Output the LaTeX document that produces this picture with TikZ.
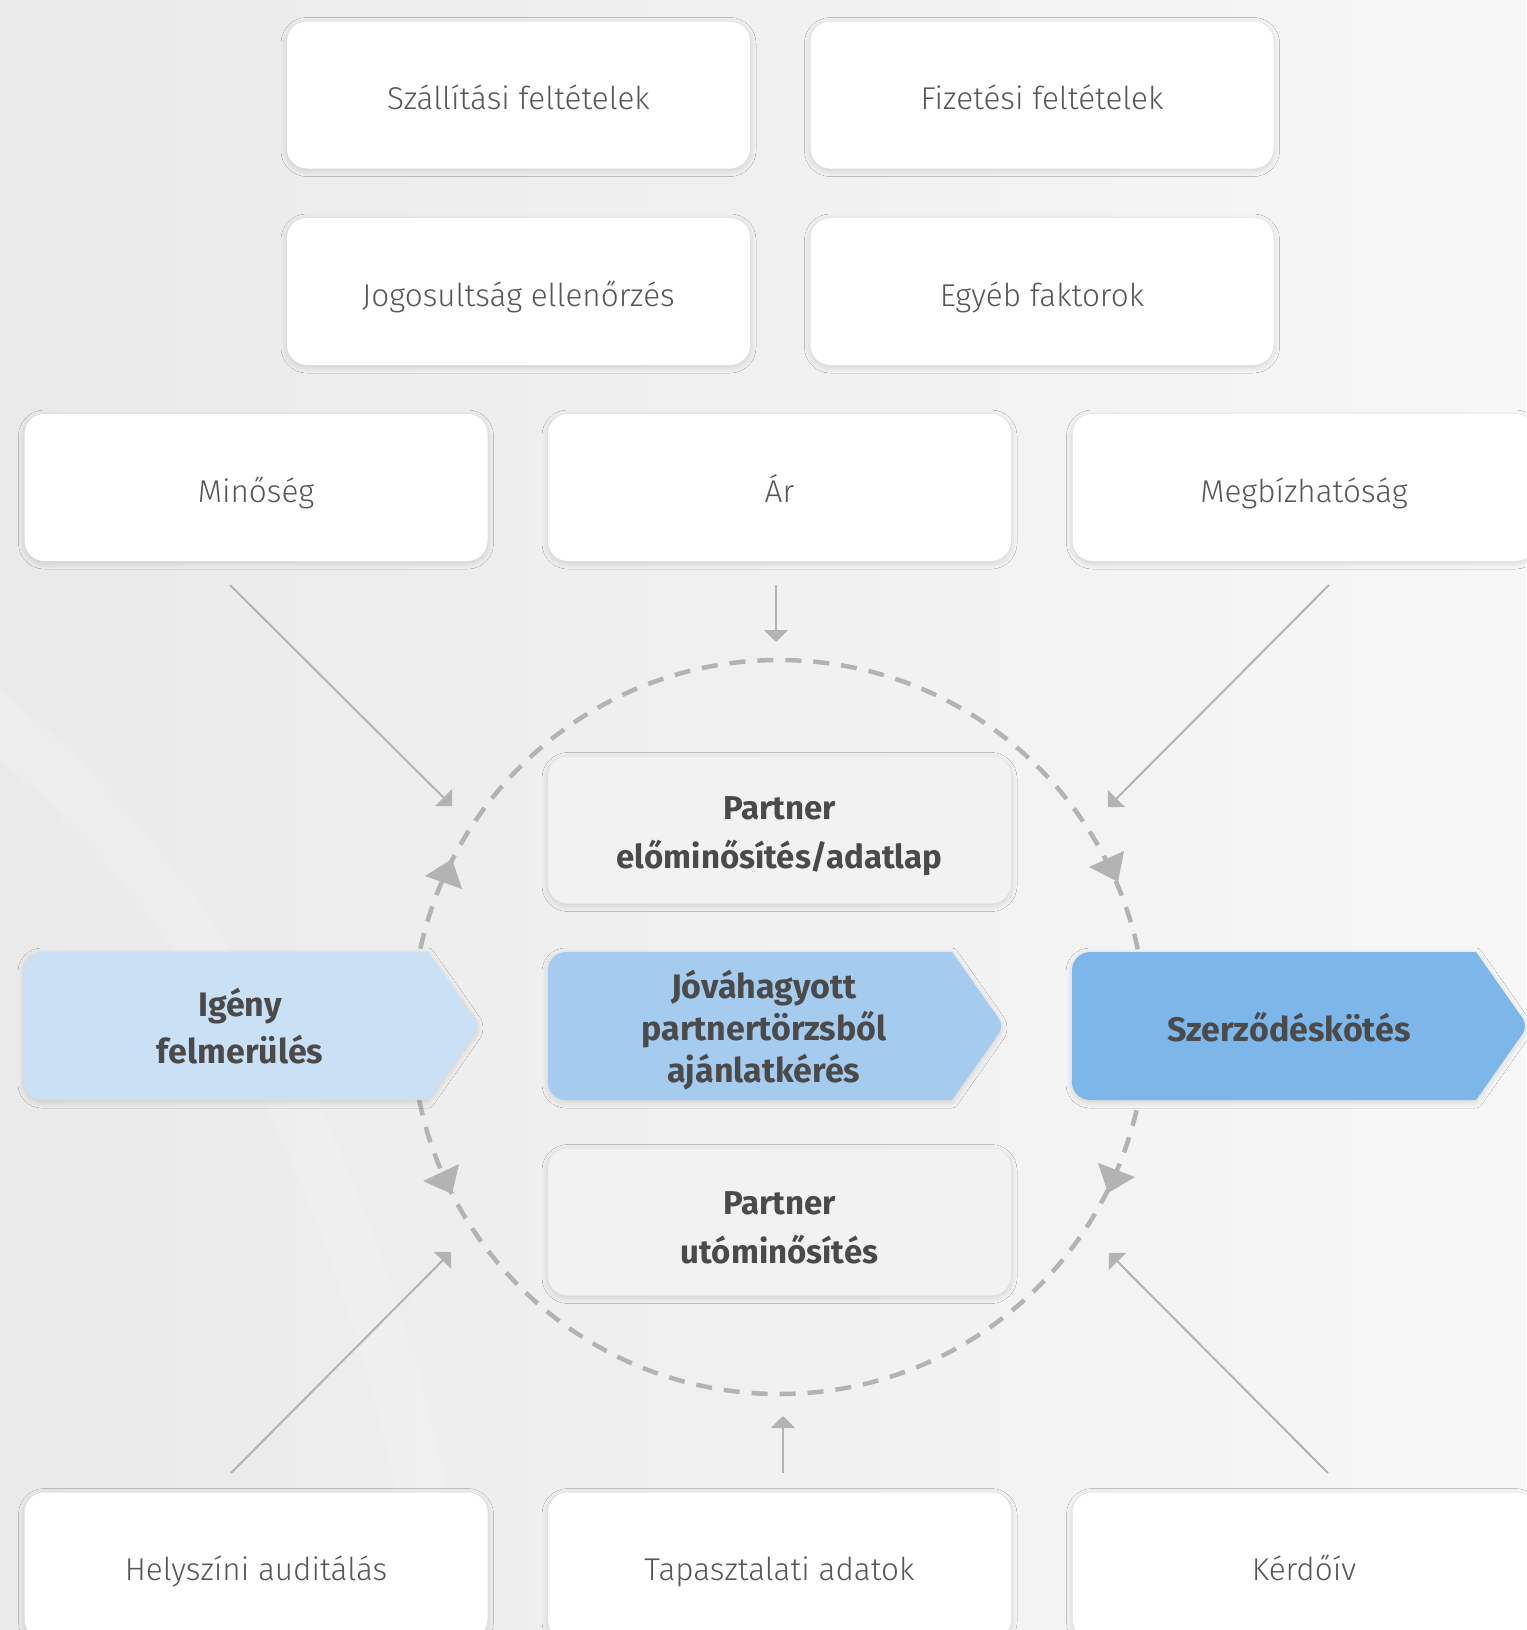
\documentclass[tikz,border=0pt]{standalone}
\usepackage{fontspec}
\setmainfont{Fira Sans}[UprightFont=* Light, BoldFont=* Bold]
\usetikzlibrary{positioning, arrows.meta, shadows.blur}

\definecolor{bgleft}{HTML}{EAEAEA}
\definecolor{bgright}{HTML}{F7F7F7}
\definecolor{cardtext}{HTML}{575757}
\definecolor{boldtext}{HTML}{4A4A4A}
\definecolor{cardgray}{HTML}{F2F2F2}
\definecolor{linegray}{HTML}{B3B3B3}
\definecolor{blueA}{HTML}{C9E0F5}
\definecolor{blueB}{HTML}{A5CBEF}
\definecolor{blueC}{HTML}{7DB6E8}

\begin{document}
\begin{tikzpicture}[
    x=1pt, y=-1pt,
    softshadow/.style={blur shadow={shadow blur radius=6pt, shadow xshift=0pt, shadow yshift=-2pt, shadow opacity=14, shadow blur steps=10}},
    cardbase/.style={draw=none, rectangle, rounded corners=20pt, minimum width=463pt, minimum height=147pt, align=center, softshadow},
    card/.style={cardbase, fill=white, text=cardtext, text height=36pt, text depth=7pt, font=\fontsize{31.5}{38}\selectfont},
    innercard/.style={cardbase, fill=cardgray},
    innertext/.style={align=center, text=boldtext, font=\bfseries\fontsize{33}{49}\selectfont},
    chevron/.style={softshadow},
    chevtext/.style={align=center, text=boldtext, font=\bfseries\fontsize{34}{47}\selectfont},
    feed/.style={draw=linegray, line width=2pt, -{Triangle[length=12pt, width=24pt]}},
    cyclering/.style={draw=linegray, line width=4.5pt, dash pattern=on 16pt off 12pt},
    ringtip/.style={fill=linegray}
]

    \useasboundingbox (0,0) rectangle (1526,1630);

    % ===============================
    % 1. BACKGROUND
    % ===============================
    \shade[left color=bgleft, right color=bgright] (0,0) rectangle (1526,1630);
    \fill[white, opacity=0.15] (0,690) .. controls (260,900) and (420,1250) .. (470,1630)
        -- (420,1630) .. controls (370,1260) and (220,940) .. (0,760) -- cycle;

    % ===============================
    % 2. CYCLE
    % ===============================
    \draw[cyclering] (779,1027) circle[radius=367];

    \fill[ringtip] (425,876) -- (452,859) -- (462,889) -- cycle;
    \fill[ringtip] (1089,867) -- (1124,851) -- (1118,882) -- cycle;
    \fill[ringtip] (423,1181) -- (459,1164) -- (452,1194) -- cycle;
    \fill[ringtip] (1098,1163) -- (1135,1177) -- (1108,1193) -- cycle;

    % ===============================
    % 3. PROCESS CHEVRONS
    % ===============================
    \path[chevron, fill=blueA] (428,952) [rounded corners=9pt] -- (480,1026) [sharp corners] -- (428,1100) [rounded corners=18pt] -- (24,1100) -- (24,952) [sharp corners] -- cycle;
    \path[chevron, fill=blueB] (952,952) [rounded corners=9pt] -- (1004,1026) [sharp corners] -- (952,1100) [rounded corners=18pt] -- (548,1100) -- (548,952) [sharp corners] -- cycle;
    \path[chevron, fill=blueC] (1476,952) [rounded corners=9pt] -- (1528,1026) [sharp corners] -- (1476,1100) [rounded corners=18pt] -- (1072,1100) -- (1072,952) [sharp corners] -- cycle;

    \node[chevtext] (igeny) at (240,1026) {Igény\\felmerülés};
    \node[chevtext, font=\bfseries\fontsize{34}{42}\selectfont] (jovahagy) at (764,1030) {Jóváhagyott\\partnertörzsből\\ajánlatkérés};
    \node[chevtext] (szerz) at (1289,1027) {Szerződéskötés};

    % ===============================
    % 4. CARDS
    % ===============================
    \node[card] (szall) at (518.5,95) {Szállítási feltételek};
    \node[card] (fizet) at (1042,95) {Fizetési feltételek};
    \node[card] (jogos) at (518.5,291.5) {Jogosultság ellenőrzés};
    \node[card] (egyeb) at (1042,291.5) {Egyéb faktorok};

    \node[card] (minoseg) at (256,487.5) {Minőség};
    \node[card] (ar) at (779.5,487.5) {Ár};
    \node[card] (megb) at (1304,487.5) {Megbízhatóság};

    \node[innercard] (elomin) at (779.5,830) {};
    \node[innertext] (elomin-text) at ([yshift=-6pt]elomin.center) {Partner\\előminősítés/adatlap};
    \node[innercard] (utomin) at (779.5,1222) {};
    \node[innertext] (utomin-text) at ([yshift=-6pt]utomin.center) {Partner\\utóminősítés};

    \node[card] (helysz) at (256,1566) {Helyszíni auditálás};
    \node[card] (tapasz) at (779.5,1566) {Tapasztalati adatok};
    \node[card] (kerdo) at (1304,1566) {Kérdőív};

    % ===============================
    % 5. INPUT ARROWS
    % ===============================
    \coordinate (minoseg-out) at (230,585);
    \coordinate (minoseg-in) at (452,806);
    \coordinate (ar-out) at (776,585);
    \coordinate (ar-in) at (776,642);
    \coordinate (megb-out) at (1329,585);
    \coordinate (megb-in) at (1108,807);
    \coordinate (helysz-out) at (231,1473);
    \coordinate (helysz-in) at (451,1252);
    \coordinate (tapasz-out) at (783,1473);
    \coordinate (tapasz-in) at (783,1416);
    \coordinate (kerdo-out) at (1328,1473);
    \coordinate (kerdo-in) at (1109,1253);

    \draw[feed] (minoseg-out) -- (minoseg-in);
    \draw[feed] (ar-out) -- (ar-in);
    \draw[feed] (megb-out) -- (megb-in);
    \draw[feed] (helysz-out) -- (helysz-in);
    \draw[feed] (tapasz-out) -- (tapasz-in);
    \draw[feed] (kerdo-out) -- (kerdo-in);

\end{tikzpicture}
\end{document}
